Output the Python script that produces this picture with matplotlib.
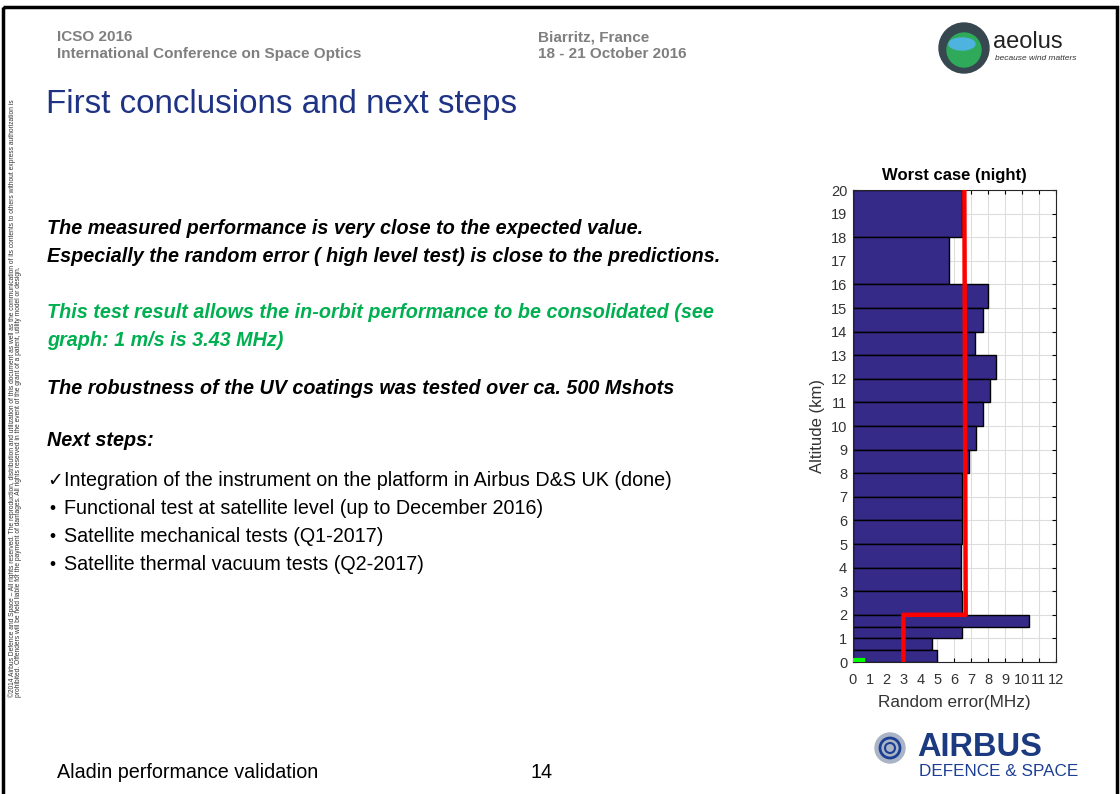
import numpy as np
import matplotlib.pyplot as plt
from matplotlib.patches import Circle, Ellipse, Rectangle

plt.rcParams['font.family'] = ['Liberation Sans', 'DejaVu Sans']

# altitude bins (km) and random error (MHz)
alt_low = [18, 16, 15, 14, 13, 12, 11, 10, 9, 8, 7, 6, 5, 4, 3, 2, 1.5, 1.0, 0.5, 0.0]
alt_high = [20, 18, 16, 15, 14, 13, 12, 11, 10, 9, 8, 7, 6, 5, 4, 3, 2.0, 1.5, 1.0, 0.5]
rand_err = [6.44, 5.69, 7.98, 7.72, 7.25, 8.47, 8.14, 7.72, 7.31, 6.90,
            6.46, 6.46, 6.46, 6.38, 6.38, 6.46, 10.44, 6.44, 4.69, 4.97]

# requirement line (red)
req_x = [6.6, 6.68, 3.0, 3.0]
req_y = [20, 2, 2, 0]

x_ticks = list(range(0, 13))
y_ticks = list(range(0, 21))

fig = plt.figure(figsize=(11.2, 7.94), dpi=100)

# background axes in pixel coordinates for the slide
bg = fig.add_axes([0, 0, 1, 1])
bg.set_xlim(0, 1120)
bg.set_ylim(794, 0)
bg.axis('off')

bg.add_patch(Rectangle((3, 7), 1114, 800, fill=False, lw=2.5, ec='black'))

gray = '#7f7f7f'
hdr = dict(fontsize=11, fontweight='bold', color=gray, va='center')
bg.text(57, 37, "ICSO 2016", **hdr)
bg.text(57, 54, "International Conference on Space Optics", **hdr)
bg.text(538, 37, "Biarritz, France", **hdr)
bg.text(538, 54, "18 - 21 October 2016", **hdr)

bg.text(46, 104, "First conclusions and next steps", fontsize=23.9, color='#1f3384', va='center')

bi = dict(fontsize=14.2, fontweight='bold', fontstyle='italic', va='center')
bg.text(47, 229, "The measured performance is very close to the expected value.", color='black', **bi)
bg.text(47, 256, "Especially the random error ( high level test) is close to the predictions.", color='black', **bi)
bg.text(47, 312, "This test result allows the in-orbit performance to be consolidated (see", color='#00b050', **bi)
bg.text(47, 341, "graph: 1 m/s is 3.43 MHz)", color='#00b050', **bi)
bg.text(47, 389, "The robustness of the UV coatings was tested over ca. 500 Mshots", color='black', **bi)
bg.text(47, 440, "Next steps:", color='black', **bi)

bg.text(47, 481, "\u2713", fontsize=13.5, va='center', family=['DejaVu Sans'])
bg.text(64, 481, "Integration of the instrument on the platform in Airbus D&S UK (done)", fontsize=14.2, va='center')
steps = ["Functional test at satellite level (up to December 2016)",
         "Satellite mechanical tests (Q1-2017)",
         "Satellite thermal vacuum tests (Q2-2017)"]
for i, s in enumerate(steps):
    y = 509 + i * 28
    bg.text(49, y, "\u2022", fontsize=12.5, va='center')
    bg.text(64, y, s, fontsize=14.2, va='center')

bg.text(57, 773, "Aladin performance validation", fontsize=14.2, va='center')
bg.text(530, 773, "14", fontsize=14.2, va='center')

copy1 = ("\u00a92014 Airbus Defence and Space \u2013 All rights reserved. The reproduction, distribution and utilization of this "
         "document as well as the communication of its contents to others without express authorization is")
copy2 = ("prohibited. Offenders will be held liable for the payment of damages. All rights reserved in the event of the "
         "grant of a patent, utility model or design.")
c1 = bg.text(12, 697, copy1, fontsize=4, rotation=90, va='center', ha='left',
             rotation_mode='anchor', color='#333333')
c2 = bg.text(19, 697, copy2, fontsize=4, rotation=90, va='center', ha='left',
             rotation_mode='anchor', color='#333333')
# shrink so the first line runs from y=697 up to y=108
fig.canvas.draw()
r = fig.canvas.get_renderer()
h = c1.get_window_extent(r).height
scale = 589 / h
c1.set_fontsize(4 * scale)
c2.set_fontsize(4 * scale)

# aeolus logo
bg.add_patch(Circle((964, 48), 25, color='#37474f'))
bg.add_patch(Circle((964, 50), 17, color='#2eaa5a'))
bg.add_patch(Ellipse((962, 44), 26, 12, color='#4fb3e0'))
bg.text(993, 42, "aeolus", fontsize=17, va='center', color='#222222')
bg.text(995, 59, "because wind matters", fontsize=6, fontstyle='italic', va='center', color='#333333')

# airbus logo
bg.add_patch(Circle((890, 748), 15, color='#a9b4c6'))
bg.add_patch(Circle((890, 748), 10, color='#1c3f94', fill=False, lw=2))
bg.add_patch(Circle((890, 748), 5, color='#1c3f94', fill=False, lw=1.5))
bg.text(917, 748, "AIRBUS", fontsize=23.5, fontweight='bold', color='#1c3a80', va='center')
bg.text(919, 772, "DEFENCE & SPACE", fontsize=12.3, color='#1c3f94', va='center')

# chart
ax = fig.add_axes([852.7 / 1120, 1 - 662 / 794, 203 / 1120, 472 / 794])
heights = np.array(alt_high) - np.array(alt_low)
ax.barh(alt_low, rand_err, height=heights, align='edge', color='#352a87',
        edgecolor='black', lw=1, zorder=2)
ax.plot(req_x, req_y, color='#ff0000', lw=3.2, zorder=3)
ax.plot([0.05, 0.6], [0.08, 0.08], color='#00ff00', lw=3, zorder=3)

ax.set_xlim(0, 12)
ax.set_ylim(0, 20)
ax.set_xticks(x_ticks)
ax.set_yticks(y_ticks)
ax.grid(True, color='#dddddd', lw=0.8, zorder=0)
ax.set_axisbelow(True)
ax.tick_params(direction='in', top=True, right=True, length=3, labelsize=10.5,
               labelcolor='#333333')
ax.tick_params(axis='x', pad=8)
ax.tick_params(axis='y', pad=4)
for sp in ax.spines.values():
    sp.set_color('#262626')
    sp.set_linewidth(0.8)
ax.set_title("Worst case (night)", fontsize=12, fontweight='bold', pad=7)
ax.set_xlabel("Random error(MHz)", fontsize=12.3, color='#333333', labelpad=6)
ax.set_ylabel("Altitude (km)", fontsize=12, color='#333333', labelpad=4)

fig.savefig('out.png', dpi=100)
